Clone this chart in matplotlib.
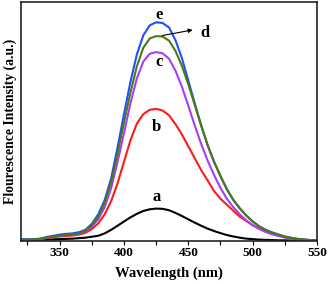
"""Fluorescence emission spectra, curves a-e."""

import matplotlib
matplotlib.use("Agg")
import matplotlib.pyplot as plt

wavelength = list(range(320, 551, 5))

spec_a = [0.002, 0.002, 0.002, 0.003, 0.004, 0.005, 0.006, 0.007, 0.008, 0.010,
          0.012, 0.016, 0.020, 0.030, 0.045, 0.062, 0.080, 0.097, 0.112, 0.124,
          0.131, 0.134, 0.133, 0.127, 0.116, 0.103, 0.089, 0.075, 0.062, 0.050,
          0.040, 0.031, 0.023, 0.017, 0.012, 0.008, 0.006, 0.004, 0.003, 0.002,
          0.001, 0.001, 0.0, 0.0, 0.0, 0.0, 0.0]
spec_b = [0.003, 0.003, 0.004, 0.006, 0.010, 0.014, 0.017, 0.019, 0.021, 0.025,
          0.032, 0.048, 0.072, 0.110, 0.165, 0.240, 0.330, 0.420, 0.490, 0.530,
          0.548, 0.552, 0.545, 0.525, 0.488, 0.445, 0.395, 0.345, 0.295, 0.252,
          0.208, 0.175, 0.150, 0.125, 0.100, 0.082, 0.064, 0.050, 0.038, 0.028,
          0.021, 0.014, 0.009, 0.005, 0.003, 0.002, 0.001]
spec_c = [0.004, 0.004, 0.005, 0.007, 0.012, 0.017, 0.020, 0.022, 0.024, 0.028,
          0.038, 0.058, 0.090, 0.140, 0.220, 0.330, 0.450, 0.575, 0.680, 0.750,
          0.783, 0.790, 0.785, 0.762, 0.712, 0.645, 0.565, 0.482, 0.405, 0.335,
          0.275, 0.220, 0.175, 0.140, 0.110, 0.085, 0.065, 0.049, 0.036, 0.027,
          0.019, 0.013, 0.008, 0.005, 0.003, 0.002, 0.001]
spec_d = [0.004, 0.004, 0.005, 0.007, 0.012, 0.017, 0.021, 0.023, 0.025, 0.030,
          0.042, 0.065, 0.100, 0.160, 0.245, 0.365, 0.495, 0.620, 0.730, 0.808,
          0.847, 0.857, 0.855, 0.838, 0.795, 0.732, 0.655, 0.568, 0.482, 0.400,
          0.330, 0.270, 0.215, 0.170, 0.135, 0.105, 0.080, 0.060, 0.045, 0.034,
          0.025, 0.017, 0.011, 0.007, 0.004, 0.002, 0.001]
spec_e = [0.005, 0.005, 0.006, 0.008, 0.015, 0.020, 0.025, 0.028, 0.030, 0.035,
          0.045, 0.070, 0.110, 0.170, 0.260, 0.390, 0.530, 0.665, 0.780, 0.860,
          0.902, 0.915, 0.912, 0.893, 0.840, 0.765, 0.670, 0.575, 0.482, 0.400,
          0.330, 0.270, 0.215, 0.170, 0.135, 0.105, 0.080, 0.060, 0.045, 0.034,
          0.025, 0.017, 0.011, 0.007, 0.004, 0.002, 0.001]

labels = ["a", "b", "c", "d", "e"]
label_xy = {"a": (425, 0.182), "b": (425, 0.476), "c": (427, 0.749),
            "d": (463, 0.868), "e": (427, 0.945)}
COLOR = {"a": "#000000", "b": "#ff1a1a", "c": "#a63cff", "d": "#4b7a12", "e": "#1f4fff"}

plt.rcParams["font.family"] = ["Liberation Serif", "DejaVu Serif"]
plt.rcParams["font.weight"] = "bold"

fig = plt.figure(figsize=(3.29, 2.84), dpi=100)
ax = fig.add_axes([0.064, 0.153, 0.8995, 0.840])

series = {"a": spec_a, "b": spec_b, "c": spec_c, "e": spec_e, "d": spec_d}
for k in ["a", "b", "c", "e", "d"]:
    ax.plot(wavelength, series[k], color=COLOR[k], lw=1.5)

for k in labels:
    x, y = label_xy[k]
    ax.text(x, y, k, ha="center", va="center", fontsize=12, fontweight="bold")
ax.annotate("", xy=(455.5, 0.885), xytext=(427.5, 0.857),
            arrowprops=dict(arrowstyle="-|>", color="k", lw=0.8, mutation_scale=6))

ax.set_xlim(320, 550)
ax.set_ylim(0, 1.0)
ax.set_xticks([350, 400, 450, 500, 550])
ax.set_xticks([325, 375, 425, 475, 525], minor=True)
ax.set_yticks([])
ax.tick_params(axis="x", which="both", direction="out", length=3, width=0.8,
               labelsize=9.5, pad=1.5)
for lbl in ax.get_xticklabels():
    lbl.set_fontweight("bold")
for s in ax.spines.values():
    s.set_linewidth(1.2)
    s.set_color("#222222")
ax.set_xlabel("Wavelength (nm)", fontsize=10.5, fontweight="bold", labelpad=5.5)
ax.set_ylabel("Flourescence Intensity (a.u.)", fontsize=9.8, fontweight="bold", labelpad=3)

fig.savefig("out.png", dpi=100)
